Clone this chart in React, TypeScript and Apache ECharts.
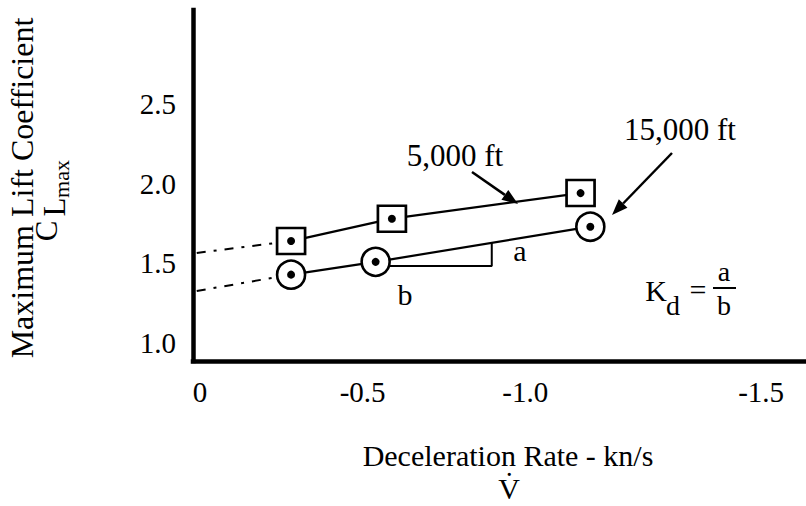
import React, { useEffect, useRef } from "react";
import * as echarts from "echarts";

// ---- data ----
const xTickLabels = ["0", "-0.5", "-1.0", "-1.5"];
const xTickAt = [0, -0.5, -1.0, -1.725];
const yTicks = [1.0, 1.5, 2.0, 2.5];

const sq5000X = [-0.28, -0.59, -1.17];
const sq5000Y = [1.64, 1.78, 1.94];
const ci15000X = [-0.28, -0.54, -1.2];
const ci15000Y = [1.43, 1.51, 1.73];

const extrap5000 = [[0.01, 1.566], [-0.28, 1.64]];
const extrap15000 = [[0.01, 1.328], [-0.28, 1.43]];
const slopeTriangle = [[-0.538, 1.484], [-0.897, 1.484], [-0.897, 1.632]];

const FONT = "Liberation Serif";

function zip(xs: number[], ys: number[]) {
  return xs.map((x, i) => [x, ys[i]]);
}

function arrow(x1: number, y1: number, x2: number, y2: number) {
  const ang = Math.atan2(y2 - y1, x2 - x1);
  const L = 16, W = 6;
  const bx = x2 - L * Math.cos(ang), by = y2 - L * Math.sin(ang);
  const px = -Math.sin(ang) * W, py = Math.cos(ang) * W;
  return [
    { type: "line", shape: { x1, y1, x2: bx, y2: by }, style: { stroke: "#000", lineWidth: 2.5 }, z: 10 },
    {
      type: "polygon",
      shape: { points: [[x2, y2], [bx + px, by + py], [bx - px, by - py]] },
      style: { fill: "#000" },
      z: 10,
    },
  ];
}

function txt(text: string, x: number, y: number, size: number, extra: any = {}) {
  return {
    type: "text",
    x,
    y,
    z: 10,
    ...extra,
    style: {
      text,
      fill: "#000",
      font: `${size}px "${FONT}"`,
      textAlign: "center",
      textVerticalAlign: "middle",
    },
  };
}

export default function App() {
  const ref = useRef<HTMLDivElement>(null);
  useEffect(() => {
    if (!ref.current) return;
    const chart = echarts.init(ref.current, null, { renderer: "svg" });
    const axisFont = { fontFamily: FONT, fontSize: 29, color: "#000" };
    const option: any = {
      animation: false,
      backgroundColor: "#fff",
      grid: { left: 193, right: 1, top: 10, bottom: 145, containLabel: false, outerBoundsMode: "none" },
      xAxis: {
        type: "value",
        min: -1.86,
        max: 0.0215,
        inverse: true,
        axisLine: { show: true, onZero: false, lineStyle: { color: "#000", width: 4.5, cap: "square" } },
        axisTick: { show: false },
        splitLine: { show: false },
        axisLabel: {
          ...axisFont,
          margin: 16,
          customValues: xTickAt,
          formatter: (v: number) => {
            const i = xTickAt.findIndex((t) => Math.abs(t - v) < 1e-6);
            return i >= 0 ? xTickLabels[i] : "";
          },
        },
      },
      yAxis: {
        type: "value",
        min: 0.89,
        max: 3.085,
        axisLine: { show: true, onZero: false, lineStyle: { color: "#000", width: 4.5, cap: "square" } },
        axisTick: { show: false },
        splitLine: { show: false },
        axisLabel: {
          ...axisFont,
          margin: 17,
          customValues: yTicks,
          formatter: (v: number) => v.toFixed(1),
        },
      },
      series: [
        {
          type: "line",
          name: "5,000 ft",
          data: zip(sq5000X, sq5000Y),
          symbol: "none",
          lineStyle: { color: "#000", width: 2.2 },
          z: 2,
        },
        {
          type: "line",
          name: "15,000 ft",
          data: zip(ci15000X, ci15000Y),
          symbol: "none",
          lineStyle: { color: "#000", width: 2.2 },
          z: 2,
        },
        {
          type: "line",
          data: extrap5000,
          symbol: "none",
          lineStyle: { color: "#000", width: 2, type: [9, 8, 3, 8] },
          z: 2,
        },
        {
          type: "line",
          data: extrap15000,
          symbol: "none",
          lineStyle: { color: "#000", width: 2, type: [9, 8, 3, 8] },
          z: 2,
        },
        {
          type: "line",
          data: slopeTriangle,
          symbol: "none",
          lineStyle: { color: "#000", width: 2 },
          z: 2,
        },
        {
          type: "scatter",
          data: zip(sq5000X, sq5000Y),
          symbol: "rect",
          symbolSize: [28, 26],
          itemStyle: { color: "#fff", borderColor: "#000", borderWidth: 2.6, opacity: 1 },
          z: 4,
        },
        {
          type: "scatter",
          data: zip(ci15000X, ci15000Y),
          symbol: "circle",
          symbolSize: 28,
          itemStyle: { color: "#fff", borderColor: "#000", borderWidth: 2.6, opacity: 1 },
          z: 4,
        },
        {
          type: "scatter",
          data: [...zip(sq5000X, sq5000Y), ...zip(ci15000X, ci15000Y)],
          symbol: "circle",
          symbolSize: 8,
          itemStyle: { color: "#000", opacity: 1 },
          z: 5,
        },
      ],
      graphic: [
        txt("Maximum Lift Coefficient", 22, 188, 32, { rotation: Math.PI / 2 }),
        txt("C", 46, 231, 31, { rotation: Math.PI / 2 }),
        txt("L", 54, 207, 31, { rotation: Math.PI / 2 }),
        txt("max", 61, 179, 22, { rotation: Math.PI / 2 }),
        txt("5,000 ft", 455, 155, 31),
        ...arrow(472, 172, 518, 204),
        txt("15,000 ft", 680, 129, 31),
        ...arrow(672, 153, 612, 215),
        txt("a", 520, 250, 30),
        txt("b", 405, 294, 30),
        txt("K", 656, 290, 30),
        txt("d", 673, 305, 28),
        txt("=", 698, 289, 30),
        txt("a", 724, 271, 28),
        { type: "line", shape: { x1: 713, y1: 288, x2: 736, y2: 288 }, style: { stroke: "#000", lineWidth: 2 }, z: 10 },
        txt("b", 724, 305, 28),
        txt("Deceleration Rate - kn/s", 508, 455, 30),
        txt("V\u0307", 509, 488, 30),
      ],
    };
    chart.setOption(option);
    return () => chart.dispose();
  }, []);
  return (
    <div
      ref={ref}
      style={{ position: "fixed", left: 0, top: 0, width: 806, height: 506, background: "#fff" }}
    />
  );
}
